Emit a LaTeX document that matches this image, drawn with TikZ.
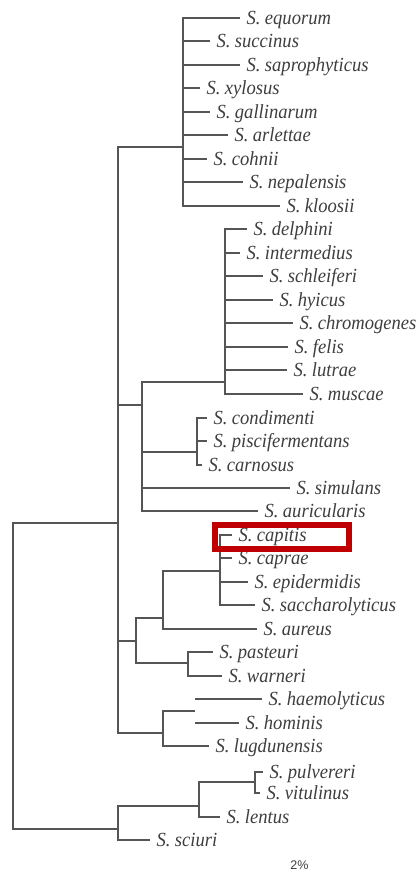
\documentclass[tikz,border=0pt]{standalone}
\usepackage{fontspec}
\setmainfont{Liberation Serif}
\newfontfamily\taxfont[FakeStretch=0.93]{Liberation Serif}
\newfontfamily\barfont{Liberation Sans}
\definecolor{linegray}{RGB}{85,85,85}
\definecolor{textgray}{RGB}{62,62,62}
\definecolor{boxred}{RGB}{192,0,0}
\newcommand\sname[1]{S.\hspace{4.5pt}#1}
\tikzset{
  branch/.style={draw=linegray, line width=2pt, line join=miter},
  leaf/.style={anchor=west, inner xsep=6.5pt, inner ysep=0pt, outer sep=0pt,
    text height=13pt, text depth=0pt, text=textgray,
    font=\taxfont\itshape\fontsize{20}{20}\selectfont},
  highlight/.style={draw=boxred, line width=6pt, inner sep=0pt, outer sep=0pt},
}
\newcommand\leafat[4]{\node[leaf] (#1) at (#2,#3) {\sname{#4}};}
\begin{document}
\begin{tikzpicture}[x=1pt,y=-1pt]
\useasboundingbox[fill=white] (0,0) rectangle (419,874);

% ---- leaves (line end x, line y, name) ----
\leafat{equorum}{240}{18}{equorum}
\leafat{succinus}{210}{41}{succinus}
\leafat{saprophyticus}{240}{65}{saprophyticus}
\leafat{xylosus}{200}{88}{xylosus}
\leafat{gallinarum}{210}{112}{gallinarum}
\leafat{arlettae}{228}{135}{arlettae}
\leafat{cohnii}{207}{159}{cohnii}
\leafat{nepalensis}{243}{182}{nepalensis}
\leafat{kloosii}{280}{206}{kloosii}
\leafat{delphini}{247}{229}{delphini}
\leafat{intermedius}{240}{253}{intermedius}
\leafat{schleiferi}{263}{276}{schleiferi}
\leafat{hyicus}{273}{300}{hyicus}
\leafat{chromogenes}{293}{323}{chromogenes}
\leafat{felis}{288}{347}{felis}
\leafat{lutrae}{287}{370}{lutrae}
\leafat{muscae}{303}{394}{muscae}
\leafat{condimenti}{207}{418}{condimenti}
\leafat{piscifermentans}{207}{441}{piscifermentans}
\leafat{carnosus}{202}{465}{carnosus}
\leafat{simulans}{290}{488}{simulans}
\leafat{auricularis}{258}{511}{auricularis}
\leafat{capitis}{232}{535}{capitis}
\leafat{caprae}{232}{558}{caprae}
\leafat{epidermidis}{248}{582}{epidermidis}
\leafat{saccharolyticus}{255}{605}{saccharolyticus}
\leafat{aureus}{257}{629}{aureus}
\leafat{pasteuri}{213}{652}{pasteuri}
\leafat{warneri}{222}{676}{warneri}
\leafat{haemolyticus}{262}{699}{haemolyticus}
\leafat{hominis}{239}{723}{hominis}
\leafat{lugdunensis}{209}{746}{lugdunensis}
\leafat{pulvereri}{263}{772}{pulvereri}
\leafat{vitulinus}{260}{793}{vitulinus}
\leafat{lentus}{220}{817}{lentus}
\leafat{sciuri}{150}{840}{sciuri}

% ---- internal nodes ----
\coordinate (root) at (13,676);
\coordinate (A)  at (118,523);
\coordinate (G1) at (183,147);
\coordinate (B)  at (142,405);
\coordinate (G2) at (225,382);
\coordinate (E)  at (197,452);
\coordinate (C)  at (136,641);
\coordinate (F)  at (163,618);
\coordinate (K)  at (220,571);
\coordinate (H)  at (188,663);
\coordinate (D)  at (163,733);
\coordinate (L)  at (195,711);
\coordinate (M)  at (118,829);
\coordinate (N)  at (199,806);
\coordinate (P)  at (255,782);

% ---- branches ----
\draw[branch] (root) |- (A);
\draw[branch] (root) |- (M);

\foreach \c in {G1,B,C,D} \draw[branch] (A) |- (\c);
\foreach \c in {equorum,succinus,saprophyticus,xylosus,gallinarum,arlettae,cohnii,nepalensis,kloosii}
  \draw[branch] (G1) |- (\c.west);

\foreach \c in {G2,E} \draw[branch] (B) |- (\c);
\foreach \c in {simulans,auricularis} \draw[branch] (B) |- (\c.west);
\foreach \c in {delphini,intermedius,schleiferi,hyicus,chromogenes,felis,lutrae,muscae}
  \draw[branch] (G2) |- (\c.west);
\foreach \c in {condimenti,piscifermentans,carnosus} \draw[branch] (E) |- (\c.west);

\foreach \c in {F,H} \draw[branch] (C) |- (\c);
\draw[branch] (F) |- (K);
\draw[branch] (F) |- (aureus.west);
\foreach \c in {capitis,caprae,epidermidis,saccharolyticus} \draw[branch] (K) |- (\c.west);
\foreach \c in {pasteuri,warneri} \draw[branch] (H) |- (\c.west);

\draw[branch] (D) |- (L);
\draw[branch] (D) |- (lugdunensis.west);
\foreach \c in {haemolyticus,hominis} \draw[branch] (L |- \c.west) -- (\c.west);

\draw[branch] (M) |- (N);
\draw[branch] (M) |- (sciuri.west);
\draw[branch] (N) |- (P);
\draw[branch] (N) |- (lentus.west);
\foreach \c in {pulvereri,vitulinus} \draw[branch] (P) |- (\c.west);

% ---- highlight and scale label ----
\node[highlight, minimum width=134pt, minimum height=24pt] (hl) at (282,537) {};
\node[text=textgray, font=\barfont\fontsize{12.5}{12.5}\selectfont, inner sep=0pt] (scale) at (299.5,865) {2\%};
\end{tikzpicture}
\end{document}
